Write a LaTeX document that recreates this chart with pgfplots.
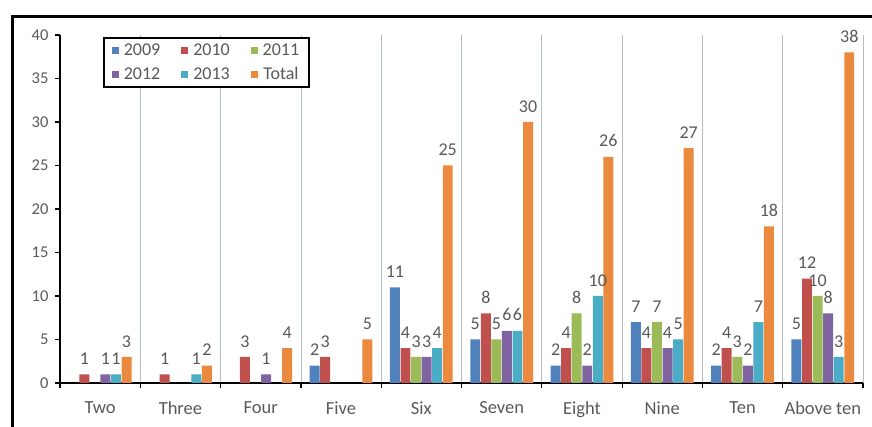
\documentclass[border=0pt]{standalone}
\usepackage{pgfplots}
\pgfplotsset{compat=1.18}
\usepackage{fontspec}
\setmainfont{Carlito}

\definecolor{cA}{HTML}{4F81BD}
\definecolor{cB}{HTML}{C0504D}
\definecolor{cC}{HTML}{9BBB59}
\definecolor{cD}{HTML}{8064A2}
\definecolor{cE}{HTML}{4BACC6}
\definecolor{cF}{HTML}{EB8A3E}
\definecolor{labgray}{HTML}{595959}
\definecolor{gridc}{HTML}{B4BCC6}

\pgfplotsset{
  sq/.style={legend image code/.code={\fill[##1,draw=none] (0pt,-3.5pt) rectangle (7pt,3.5pt);
    \path (0pt,0pt) -- (10pt,0pt);}},
}

\begin{document}
\begin{tikzpicture}[x=1pt,y=1pt]
\path[use as bounding box] (0,0) rectangle (872,427);
% outer frame
\draw[line width=3pt, black] (12,-2) -- (12,410) -- (874,410);
\begin{axis}[
  at={(60pt,44pt)}, anchor=south west,
  scale only axis, width=803pt, height=348pt,
  ymin=0, ymax=40, xmin=-0.5, xmax=9.5,
  ybar=0.6pt, bar width=0.124,
  axis x line*=bottom, axis y line*=left,
  axis line style={line width=1.6pt, black, -},
  /pgf/number format/assume math mode=true,
  ytick={0,5,...,40},
  xtick={0,...,9},
  xticklabels={Two,Three,Four,Five,Six,Seven,Eight,Nine,Ten,Above ten},
  major x tick style={draw=none},
  minor xtick={-0.5,0.5,...,9.5},
  xminorgrids=true,
  minor x grid style={draw=gridc, line width=0.8pt},
  minor tick length=5pt,
  major tick length=5pt,
  tick align=outside,
  ytick style={black, line width=1.2pt},
  minor x tick style={black, line width=1.2pt},
  yticklabel style={font=\fontsize{16.5}{16.5}\selectfont, text=labgray, xshift=-3pt},
  xticklabel style={font=\fontsize{18.5}{18.5}\selectfont, text=labgray, yshift=-10pt},
  nodes near coords,
  every node near coord/.append style={font=\fontsize{18}{18}\selectfont, text=labgray, inner sep=1.5pt, yshift=8pt},
  legend columns=3,
  legend style={at={(rel axis cs:0.0535,0.994)}, anchor=north west,
    draw=black, line width=1.6pt, font=\fontsize{18}{18}\selectfont, text=labgray,
    inner xsep=8pt, inner ysep=4pt, row sep=6pt,
    /tikz/every even column/.append style={column sep=19pt}},
]
\addplot[fill=cA, draw=none, sq] coordinates {(3,2) (4,11) (5,5) (6,2) (7,7) (8,2) (9,5)};
\addplot[fill=cB, draw=none, sq] coordinates {(0,1) (1,1) (2,3) (3,3) (4,4) (5,8) (6,4) (7,4) (8,4) (9,12)};
\addplot[fill=cC, draw=none, sq] coordinates {(4,3) (5,5) (6,8) (7,7) (8,3) (9,10)};
\addplot[fill=cD, draw=none, sq] coordinates {(0,1) (2,1) (4,3) (5,6) (6,2) (7,4) (8,2) (9,8)};
\addplot[fill=cE, draw=none, sq] coordinates {(0,1) (1,1) (4,4) (5,6) (6,10) (7,5) (8,7) (9,3)};
\addplot[fill=cF, draw=none, sq] coordinates {(0,3) (1,2) (2,4) (3,5) (4,25) (5,30) (6,26) (7,27) (8,18) (9,38)};
\legend{2009,2010,2011,2012,2013,Total}
\end{axis}
\end{tikzpicture}
\end{document}
